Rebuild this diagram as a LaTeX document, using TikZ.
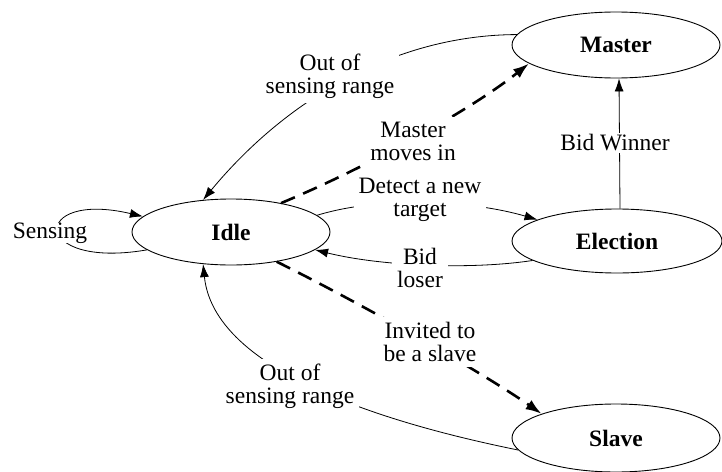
\documentclass[tikz,border=0pt]{standalone}
\usepackage{fontspec}
\setmainfont{Liberation Serif}
\usetikzlibrary{arrows.meta,shapes.geometric}
\begin{document}
\begin{tikzpicture}[x=1pt,y=-1pt,
  state/.style={draw, ellipse, line width=0.9pt, minimum width=208pt, minimum height=66pt,
    inner sep=0pt, font=\fontsize{23.5}{25}\selectfont\bfseries},
  lbl/.style={fill=white, align=center, inner sep=5pt, font=\fontsize{23.5}{23}\selectfont},
  conn/.style={line width=0.8pt, -{Latex[length=13pt,width=9pt]}},
  dconn/.style={line width=2.6pt, dash pattern=on 15pt off 9pt, -{Latex[length=16pt,width=11pt]}},
]
\useasboundingbox (0,0) rectangle (722,471);

% states
\node[state, minimum width=198pt] (idle) at (231,232) {Idle};
\node[state] (master) at (616,45) {Master};
\node[state, minimum width=210pt, minimum height=64pt] (election) at (617,241) {Election};
\node[state, minimum height=68pt] (slave) at (616,438) {Slave};

% connectors
\draw[conn] (idle.192) .. controls (30,270) and (30,190) .. (idle.170);
\draw[conn] (master.174) .. controls (400,35) and (290,95) .. (idle.131);
\draw[dconn] (idle.30) .. controls (370,166) and (472,109) .. (master.192);
\draw[conn] (idle.11) .. controls (380,196) and (470,200) .. (election.165);
\draw[conn] (election.193) .. controls (470,270) and (380,266) .. (idle.-12);
\draw[conn] ([xshift=3pt]election.north) -- ([xshift=3pt]master.south);
\draw[dconn] (idle.-33) .. controls (360,303) and (480,371) .. (slave.162);
\draw[conn] (slave.187) .. controls (420,430) and (215,380) .. (idle.229);

% labels
\node[lbl, inner sep=0pt] (lsens) at (50,233) {Sensing};
\node[lbl] (lout1) at (330,76) {Out of\\sensing range};
\node[lbl] (lmove) at (413,141) {Master\\moves in};
\node[lbl, inner sep=2pt] (lwin) at (615,143) {Bid Winner};
\node[lbl] (ldet) at (420,200) {Detect a new\\target};
\node[lbl] (llose) at (420,268) {Bid\\loser};
\node[lbl] (linv) at (430,342) {Invited to\\be a slave};
\node[lbl] (lout2) at (290,386) {Out of\\sensing range};
\end{tikzpicture}
\end{document}
